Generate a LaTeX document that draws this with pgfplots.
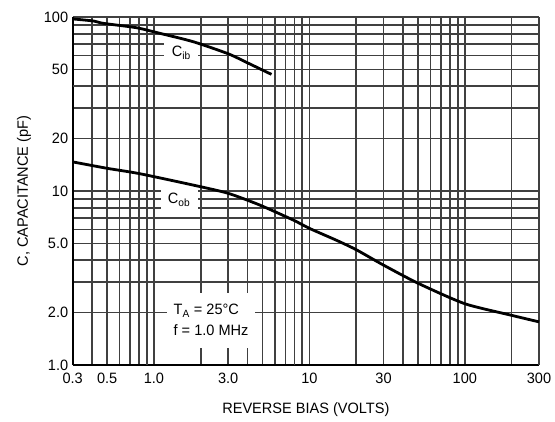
\documentclass[border=0pt]{standalone}
\usepackage{fontspec}
\setmainfont{Liberation Sans}[FakeStretch=0.97]
\usepackage{pgfplots}
\pgfplotsset{compat=1.18}
\definecolor{gridgray}{HTML}{404040}
\definecolor{lightgrid}{HTML}{D4D4D4}

\begin{document}
\begin{tikzpicture}
\begin{loglogaxis}[
  scale only axis,
  width=466.3pt, height=348pt,
  xmin=0.3, xmax=300, ymin=1, ymax=100,
  axis lines=left,
  axis line style={black, line width=2.2pt, -},
  xtick={0.3,0.5,1,3,10,30,100},
  xticklabels={0.3,0.5,1.0,3.0,10,30,100},
  ytick={1,2,5,10,20,50,100},
  yticklabels={1.0,2.0,5.0,10,20,50,100},
  minor xtick={0.4,0.6,0.7,0.8,2,4,5,6,7,9,20,40,50,60,70,80,90,200},
  minor ytick={3,4,6,7,8,9,30,60,70,80,90},
  extra x ticks={0.9,8,300},
  extra x tick labels={{},{},300},
  extra y ticks={40},
  extra y tick labels={{}},
  extra x tick style={grid style={lightgrid, line width=1.6pt}},
  extra y tick style={grid style={lightgrid, line width=1.6pt}},
  grid=both,
  major grid style={gridgray, line width=1.6pt},
  minor grid style={gridgray, line width=1.6pt},
  major tick length=0pt, minor tick length=0pt,
  ticklabel style={font=\fontsize{15}{17}\selectfont},
  xticklabel style={yshift=-4pt},
  yticklabel style={xshift=-1pt},
  xlabel={REVERSE BIAS (VOLTS)},
  ylabel={C, CAPACITANCE (pF)},
  label style={font=\fontsize{15}{17}\selectfont},
  xlabel style={yshift=-13pt},
  ylabel style={yshift=6pt},
  clip=false,
]
\node[fill=white, inner sep=1pt, minimum width=34pt, minimum height=22pt,
      font=\fontsize{15}{17}\selectfont] at (axis cs:1.5,62) {C\textsubscript{ib}};
\node[fill=white, inner sep=1pt, minimum width=37pt, minimum height=26pt,
      font=\fontsize{15}{17}\selectfont] at (axis cs:1.45,8.9) {C\textsubscript{ob}};
\node[fill=white, inner sep=2pt, minimum width=88pt, minimum height=55pt,
      align=left, font=\fontsize{15}{21}\selectfont] at (axis cs:2.33,1.81)
  {T\textsubscript{A} = 25°C\\f = 1.0 MHz};
\addplot[black, line width=2.8pt, smooth, tension=0.4] coordinates {
  (0.3,97.5) (0.41,94.8) (0.47,92) (0.77,86.8) (1.09,80.6) (1.79,72.1)
  (3,61.5) (4,54.5) (5.7,46.8)
};
\addplot[black, line width=2.8pt, smooth, tension=0.4] coordinates {
  (0.3,14.7) (0.5,13.5) (0.8,12.6) (1.8,10.8) (3,9.7) (4.8,8.3) (7.9,6.8)
  (10,6.1) (15,5.2) (20,4.6) (30,3.75) (50,2.95) (100,2.25) (200,1.93) (300,1.77)
};
\coordinate (sw) at (rel axis cs:0,0);
\coordinate (ne) at (rel axis cs:1,1);
\end{loglogaxis}
\pgfresetboundingbox
\path ([shift={(-72.7pt,-56pt)}]sw) rectangle ([shift={(16pt,17pt)}]ne);
\end{tikzpicture}
\end{document}
